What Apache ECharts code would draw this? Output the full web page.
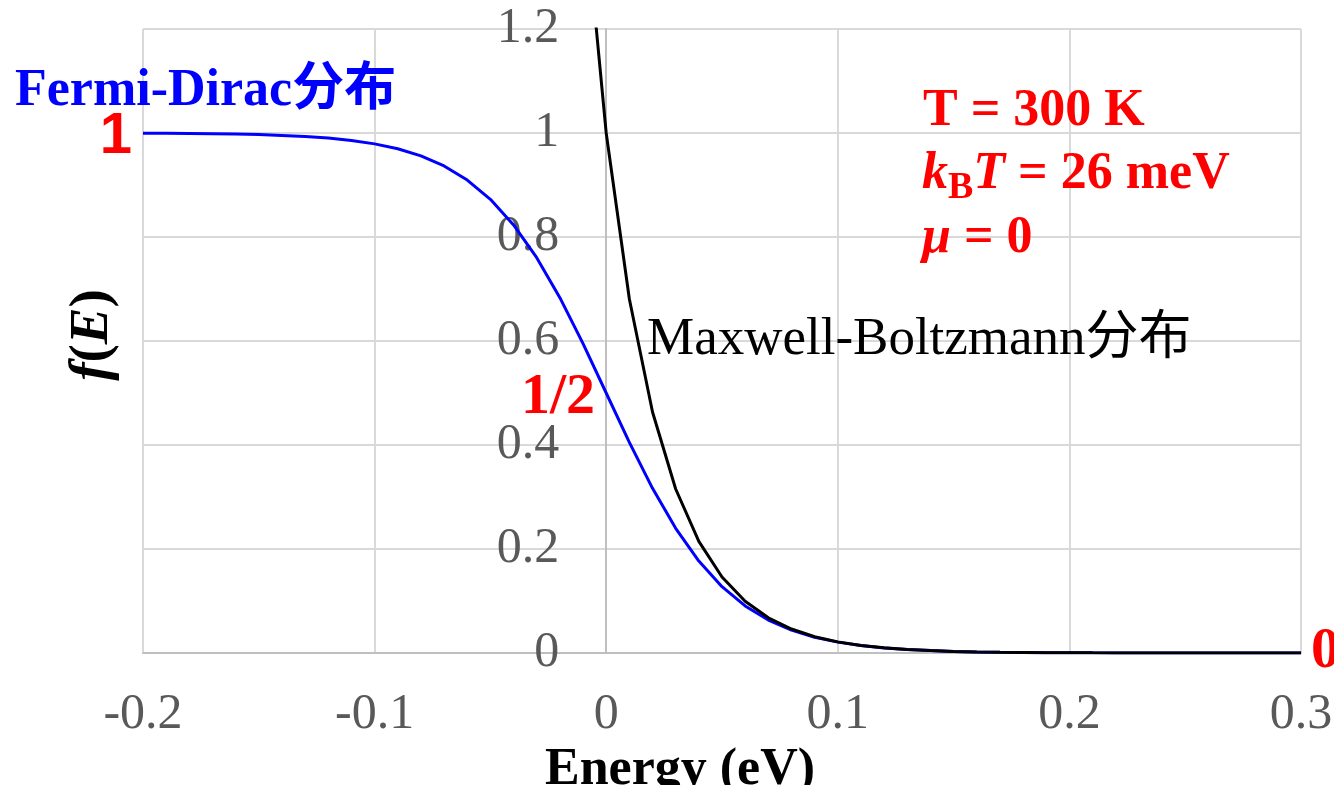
<!DOCTYPE html>
<html>
<head>
<meta charset="utf-8">
<script src="https://cdn.jsdelivr.net/npm/echarts@6/dist/echarts.min.js"></script>
<style>
html,body{margin:0;padding:0;background:#fff;}
#chart{width:1334px;height:785px;}
</style>
</head>
<body>
<div id="chart"></div>
<script>
// Energy (eV)
var energy = [-0.20,-0.19,-0.18,-0.17,-0.16,-0.15,-0.14,-0.13,-0.12,-0.11,
  -0.10,-0.09,-0.08,-0.07,-0.06,-0.05,-0.04,-0.03,-0.02,-0.01,
  0.00,0.01,0.02,0.03,0.04,0.05,0.06,0.07,0.08,0.09,
  0.10,0.11,0.12,0.13,0.14,0.15,0.16,0.17,0.18,0.19,
  0.20,0.21,0.22,0.23,0.24,0.25,0.26,0.27,0.28,0.29,0.30];
// Fermi-Dirac distribution values
var fermiDirac = [0.9995,0.9993,0.9990,0.9986,0.9979,0.9969,0.9954,0.9933,0.9902,0.9857,
  0.9791,0.9696,0.9559,0.9366,0.9095,0.8725,0.8232,0.7602,0.6833,0.5950,
  0.5000,0.4050,0.3167,0.2398,0.1768,0.1275,0.0905,0.0634,0.0441,0.0304,
  0.0209,0.0143,0.0098,0.0067,0.0046,0.0031,0.0021,0.0014,0.0010,0.0007,
  0.0005,0.0003,0.0002,0.0001,0.0001,0.0001,0.0000,0.0000,0.0000,0.0000,0.0000];
// Maxwell-Boltzmann distribution values
var maxwellBoltzmann = [null,null,null,null,null,null,null,null,null,null,
  null,null,null,null,null,null,null,null,null,1.469,
  1.0000,0.6807,0.4634,0.3154,0.2147,0.1462,0.0995,0.0677,0.0461,0.0314,
  0.0214,0.0146,0.0099,0.0067,0.0046,0.0031,0.0021,0.0014,0.0010,0.0007,
  0.0005,0.0003,0.0002,0.0001,0.0001,0.0001,0.0000,0.0000,0.0000,0.0000,0.0000];
var xTicks = {min: -0.2, max: 0.3, interval: 0.1};
var yTicks = {min: 0, max: 1.2, interval: 0.2};

function pairs(xs, ys){
  var out = [];
  for (var i = 0; i < xs.length; i++) out.push([xs[i], ys[i]]);
  return out;
}

var SERIF = '"Liberation Serif","Times New Roman",serif';
var CJK_BOLD = '"Liberation Serif","Noto Sans CJK SC",serif';

var GRID = {left: 143, right: 33, top: 29, bottom: 132};
var plotWidth = 1334 - GRID.left - GRID.right;
// y axis sits at E = 0 (shift from the grid's left edge toward x = 0)
var yAxisShift = -plotWidth * (0 - xTicks.min) / (xTicks.max - xTicks.min);

var chart = echarts.init(document.getElementById('chart'), null, {renderer: 'canvas'});
chart.setOption({
  backgroundColor: '#ffffff',
  animation: false,
  grid: {left: GRID.left, right: GRID.right, top: GRID.top, bottom: GRID.bottom, containLabel: false, outerBoundsMode: 'none'},
  xAxis: {
    type: 'value',
    min: xTicks.min, max: xTicks.max, interval: xTicks.interval,
    name: 'Energy (eV)',
    nameLocation: 'middle',
    nameGap: 62,
    nameTextStyle: {fontFamily: SERIF, fontWeight: 'bold', fontSize: 52, color: '#000000', verticalAlign: 'top', align: 'center', padding: [0, 84, 0, 0]},
    axisLine: {show: true, onZero: false, lineStyle: {color: '#bfbfbf', width: 2}},
    axisTick: {show: false},
    axisLabel: {margin: 62, fontFamily: SERIF, fontSize: 50, color: '#595959', verticalAlign: 'middle'},
    splitLine: {show: true, lineStyle: {color: '#d9d9d9', width: 2}}
  },
  yAxis: {
    type: 'value',
    min: yTicks.min, max: yTicks.max, interval: yTicks.interval,
    offset: yAxisShift,
    name: '{i|f}{n|(}{i|E}{n|)}',
    nameLocation: 'middle',
    nameRotate: 90,
    nameGap: 513,
    nameTextStyle: {
      align: 'center', verticalAlign: 'middle', padding: [0, 0, 0, 12],
      rich: {
        i: {fontFamily: SERIF, fontWeight: 'bold', fontStyle: 'italic', fontSize: 55, color: '#000000'},
        n: {fontFamily: SERIF, fontWeight: 'bold', fontSize: 55, color: '#000000'}
      }
    },
    axisLine: {show: true, onZero: false, lineStyle: {color: '#bfbfbf', width: 2}},
    axisTick: {show: false},
    axisLabel: {margin: 47, fontFamily: SERIF, fontSize: 50, color: '#595959'},
    splitLine: {show: true, lineStyle: {color: '#d9d9d9', width: 2}}
  },
  series: [
    {
      name: 'Fermi-Dirac分布',
      type: 'line',
      data: pairs(energy, fermiDirac),
      showSymbol: false,
      smooth: false,
      clip: true,
      lineStyle: {color: '#0000ff', width: 3},
      itemStyle: {color: '#0000ff'},
      z: 3
    },
    {
      name: 'Maxwell-Boltzmann分布',
      type: 'line',
      data: pairs(energy, maxwellBoltzmann),
      showSymbol: false,
      smooth: false,
      clip: true,
      connectNulls: false,
      lineStyle: {color: '#000000', width: 3},
      itemStyle: {color: '#000000'},
      z: 4
    }
  ],
  graphic: [
    {type: 'text', x: 15, y: 92, z: 10, style: {text: 'Fermi-Dirac分布', fill: '#0000ff', font: 'bold 52px ' + CJK_BOLD, textAlign: 'left', textVerticalAlign: 'middle'}},
    {type: 'text', x: 116, y: 137, z: 10, style: {text: '1', fill: '#ff0000', font: 'bold 58px "Liberation Sans",Arial,sans-serif', textAlign: 'center', textVerticalAlign: 'middle'}},
    {type: 'text', x: 558, y: 398, z: 10, style: {text: '1/2', fill: '#ff0000', font: 'bold 58px ' + SERIF, textAlign: 'center', textVerticalAlign: 'middle'}},
    {type: 'text', x: 1311, y: 652, z: 10, style: {text: '0', fill: '#ff0000', font: 'bold 58px ' + SERIF, textAlign: 'left', textVerticalAlign: 'middle'}},
    {type: 'text', x: 923, y: 112, z: 10, style: {text: 'T = 300 K', fill: '#ff0000', font: 'bold 52px ' + SERIF, textAlign: 'left', textVerticalAlign: 'middle'}},
    {type: 'text', x: 922, y: 175, z: 10, style: {
      text: '{i|k}{s|B}{i|T}{n| = 26 meV}',
      textAlign: 'left', textVerticalAlign: 'middle',
      rich: {
        i: {fontFamily: SERIF, fontWeight: 'bold', fontStyle: 'italic', fontSize: 52, lineHeight: 64, fill: '#ff0000', color: '#ff0000'},
        n: {fontFamily: SERIF, fontWeight: 'bold', fontSize: 52, lineHeight: 64, fill: '#ff0000', color: '#ff0000'},
        s: {fontFamily: SERIF, fontWeight: 'bold', fontSize: 38, lineHeight: 36, verticalAlign: 'bottom', fill: '#ff0000', color: '#ff0000'}
      }
    }},
    {type: 'text', x: 922, y: 239, z: 10, style: {
      text: '{i|μ}{n| = 0}',
      textAlign: 'left', textVerticalAlign: 'middle',
      rich: {
        i: {fontFamily: SERIF, fontWeight: 'bold', fontStyle: 'italic', fontSize: 52, fill: '#ff0000', color: '#ff0000'},
        n: {fontFamily: SERIF, fontWeight: 'bold', fontSize: 52, fill: '#ff0000', color: '#ff0000'}
      }
    }},
    {type: 'text', x: 647, y: 340, z: 10, style: {text: 'Maxwell-Boltzmann分布', fill: '#000000', font: '53px "Liberation Serif","Noto Sans CJK SC",serif', textAlign: 'left', textVerticalAlign: 'middle'}}
  ]
});
</script>
</body>
</html>
